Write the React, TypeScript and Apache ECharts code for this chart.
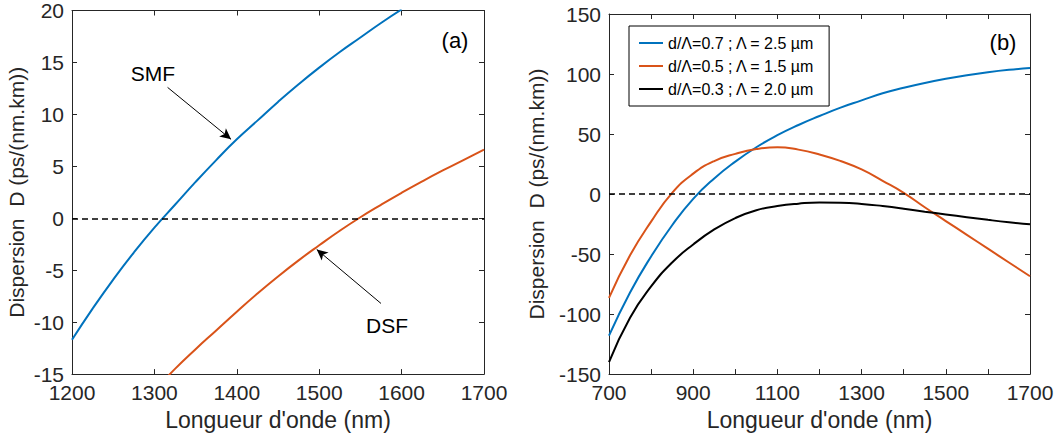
import React, { useEffect, useRef } from "react";
import * as echarts from "echarts";

// ---- Panel (a) data ----
const smfWave = [1200, 1225, 1250, 1275, 1300, 1325, 1350, 1375, 1400, 1425, 1450, 1475, 1500, 1525, 1550, 1575, 1600];
const smfD = [-11.7, -8.7, -5.9, -3.3, -0.9, 1.3, 3.5, 5.6, 7.6, 9.4, 11.2, 12.9, 14.5, 16.0, 17.4, 18.8, 20.1];
const dsfWave = [1300, 1325, 1350, 1375, 1400, 1425, 1450, 1475, 1500, 1525, 1550, 1575, 1600, 1625, 1650, 1675, 1700];
const dsfD = [-16.6, -14.5, -12.6, -10.8, -9.0, -7.25, -5.6, -4.05, -2.6, -1.2, 0.1, 1.3, 2.45, 3.55, 4.6, 5.6, 6.6];

// ---- Panel (b) data ----
const pcfWave = [700, 750, 800, 850, 900, 950, 1000, 1050, 1100, 1150, 1200, 1250, 1300, 1350, 1400, 1450, 1500, 1550, 1600, 1650, 1700];
const pcf07 = [-118, -82, -52, -26, -4, 13, 27, 39, 49, 57.5, 65, 72, 78, 84, 88.5, 92.5, 96, 99, 101.5, 103.5, 105];
const pcf05 = [-86.5, -51, -23, 1, 17, 27.5, 33.5, 37.5, 39, 37, 33, 27.5, 20.5, 11, 1, -11, -22.5, -34, -45.5, -57, -68.5];
const pcf03 = [-140, -103, -77, -57, -42, -29.5, -20, -13.5, -10, -8, -7, -7.2, -8.2, -10, -12.2, -14.7, -17, -19.3, -21.5, -23.5, -25.2];

const seriesNames = [
  "d/\u039B=0.7 ; \u039B = 2.5 \u00B5m",
  "d/\u039B=0.5 ; \u039B = 1.5 \u00B5m",
  "d/\u039B=0.3 ; \u039B = 2.0 \u00B5m",
];

// ---- Annotations (data coordinates) ----
const smfArrow = [[1316, 12.6], [1393, 7.6]];
const dsfArrow = [[1575, -8.2], [1497, -3.0]];

const xLabel = "Longueur d'onde (nm)";
const yLabel = "Dispersion  D (ps/(nm.km))";

const FONT = "'Liberation Sans', Arial, Helvetica, sans-serif";
const AX = "#262626";
const BLUE = "#0072BD";
const ORANGE = "#D95319";

const zip = (xs: number[], ys: number[]) => xs.map((x, i) => [x, ys[i]]);

function axis(o: any) {
  return {
    type: "value",
    axisLine: { show: true, onZero: false, lineStyle: { color: AX, width: 1 } },
    axisTick: { show: true, inside: true, length: 5, lineStyle: { color: AX, width: 1 } },
    splitLine: { show: false },
    axisLabel: { show: true, fontSize: 21, color: AX, fontFamily: FONT, margin: 8, formatter: (v: number) => String(v) },
    nameTextStyle: { fontSize: 23, color: AX, fontFamily: FONT },
    ...o,
  };
}

function lineSeries(name: string, xi: number, xs: number[], ys: number[], color: string, extra: any = {}) {
  return {
    name, type: "line", xAxisIndex: xi, yAxisIndex: xi, data: zip(xs, ys),
    smooth: true,
    showSymbol: false, symbol: "none",
    lineStyle: { color, width: 2 }, itemStyle: { color }, clip: true, z: 3,
    ...extra,
  };
}

export default function App() {
  const ref = useRef<HTMLDivElement>(null);
  useEffect(() => {
    if (!ref.current) return;
    const chart = echarts.init(ref.current, undefined, { renderer: "svg" });
    const hidden = { show: false };
    const zeroLine = {
      silent: true, animation: false, symbol: ["none", "none"], label: { show: false },
      lineStyle: { color: "#000", width: 1.5, type: [6, 4] },
      data: [{ yAxis: 0 }],
    };
    const option: any = {
      animation: false,
      backgroundColor: "#ffffff",
      grid: [
        { left: 72, top: 10.5, width: 412, height: 369 },
        { left: 609, top: 14, width: 421, height: 366 },
      ],
      xAxis: [
        axis({ gridIndex: 0, position: "bottom", min: 1200, max: 1700, interval: 100, name: xLabel, nameLocation: "middle", nameGap: 29 }),
        axis({ gridIndex: 0, position: "top", min: 1200, max: 1700, interval: 100, axisLabel: hidden }),
        axis({
          gridIndex: 1, position: "bottom", min: 700, max: 1700, interval: 100, name: xLabel, nameLocation: "middle", nameGap: 29,
          axisLabel: { show: true, fontSize: 21, color: AX, fontFamily: FONT, margin: 8, formatter: (v: number) => ((v - 700) % 200 === 0 ? String(v) : "") },
        }),
        axis({ gridIndex: 1, position: "top", min: 700, max: 1700, interval: 100, axisLabel: hidden }),
      ],
      yAxis: [
        axis({ gridIndex: 0, position: "left", min: -15, max: 20, interval: 5, name: yLabel, nameLocation: "middle", nameGap: 45, nameTextStyle: { fontSize: 21, color: AX, fontFamily: FONT } }),
        axis({ gridIndex: 0, position: "right", min: -15, max: 20, interval: 5, axisLabel: hidden }),
        axis({ gridIndex: 1, position: "left", min: -150, max: 150, interval: 50, name: yLabel, nameLocation: "middle", nameGap: 62, nameTextStyle: { fontSize: 21, color: AX, fontFamily: FONT } }),
        axis({ gridIndex: 1, position: "right", min: -150, max: 150, interval: 50, axisLabel: hidden }),
      ],
      legend: {
        data: seriesNames,
        orient: "vertical",
        left: 629,
        top: 26,
        padding: [9, 14, 9, 10],
        itemGap: 7,
        itemWidth: 24,
        itemHeight: 2,
        itemTextGap: 6,
        icon: "rect",
        borderColor: "#000",
        borderWidth: 1,
        backgroundColor: "#fff",
        textStyle: { fontSize: 16, color: "#000", fontFamily: FONT, lineHeight: 16 },
      },
      series: [
        lineSeries("SMF", 0, smfWave, smfD, BLUE, {
          markLine: {
            silent: true, animation: false,
            label: { show: false },
            symbol: ["none", "arrow"], symbolSize: [8, 11],
            lineStyle: { color: "#000", width: 1, type: "solid" },
            data: [
              [{ coord: smfArrow[0] }, { coord: smfArrow[1] }],
              [{ coord: dsfArrow[0] }, { coord: dsfArrow[1] }],
            ],
          },
        }),
        lineSeries("DSF", 0, dsfWave, dsfD, ORANGE, { markLine: zeroLine }),
        { ...lineSeries(seriesNames[0], 2, pcfWave, pcf07, BLUE), yAxisIndex: 2 },
        { ...lineSeries(seriesNames[1], 2, pcfWave, pcf05, ORANGE), yAxisIndex: 2 },
        { ...lineSeries(seriesNames[2], 2, pcfWave, pcf03, "#000", { markLine: zeroLine }), yAxisIndex: 2 },
      ],
      graphic: [
        { type: "text", x: 153, y: 73, style: { text: "SMF", fontSize: 21, fontFamily: FONT, fill: "#000", align: "center", verticalAlign: "middle", textAlign: "center", textVerticalAlign: "middle" } },
        { type: "text", x: 387, y: 325, style: { text: "DSF", fontSize: 21, fontFamily: FONT, fill: "#000", align: "center", verticalAlign: "middle", textAlign: "center", textVerticalAlign: "middle" } },
        { type: "text", x: 455, y: 40, style: { text: "(a)", fontSize: 22, fontFamily: FONT, fill: "#000", align: "center", verticalAlign: "middle", textAlign: "center", textVerticalAlign: "middle" } },
        { type: "text", x: 1003, y: 42, style: { text: "(b)", fontSize: 22, fontFamily: FONT, fill: "#000", align: "center", verticalAlign: "middle", textAlign: "center", textVerticalAlign: "middle" } },
      ],
    };
    chart.setOption(option);
    return () => chart.dispose();
  }, []);
  return (
    <div
      ref={ref}
      style={{ position: "absolute", left: 0, top: 0, width: 1062, height: 436, background: "#fff" }}
    />
  );
}
